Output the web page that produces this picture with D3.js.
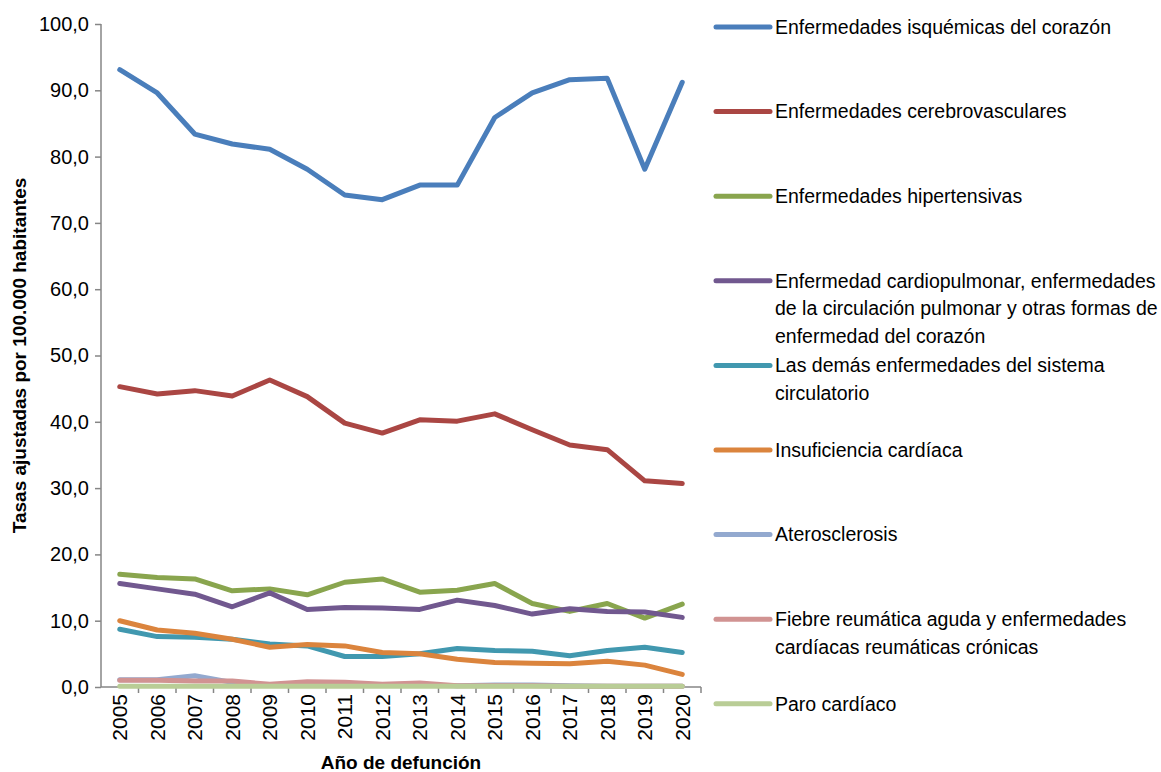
<!DOCTYPE html>
<html>
<head>
<meta charset="utf-8">
<script src="https://cdn.jsdelivr.net/npm/d3@7"></script>
<style>
  body { margin: 0; background: #fff; }
  svg text { font-family: "Liberation Sans Narrow", "Arial Narrow", "Liberation Sans", Arial, sans-serif; fill: #000; }
</style>
</head>
<body>
<svg id="chart" width="1161" height="772"></svg>
<script>
// years on the x axis
var years = ["2005","2006","2007","2008","2009","2010","2011","2012","2013","2014","2015","2016","2017","2018","2019","2020"];

// series values (tasas ajustadas por 100.000 habitantes)
var isquemicas     = [93.1, 89.6, 83.4, 81.9, 81.1, 78.1, 74.2, 73.5, 75.7, 75.7, 85.9, 89.6, 91.6, 91.8, 78.1, 91.2];
var cerebrovasc    = [45.3, 44.2, 44.7, 43.9, 46.3, 43.8, 39.8, 38.3, 40.3, 40.1, 41.2, 38.8, 36.5, 35.8, 31.1, 30.7];
var hipertensivas  = [17.0, 16.5, 16.3, 14.5, 14.8, 13.9, 15.8, 16.3, 14.3, 14.6, 15.6, 12.6, 11.4, 12.6, 10.4, 12.5];
var cardiopulmonar = [15.6, 14.8, 14.0, 12.1, 14.2, 11.7, 12.0, 11.9, 11.7, 13.1, 12.3, 11.0, 11.8, 11.4, 11.3, 10.5];
var demasCirc      = [8.7, 7.6, 7.5, 7.2, 6.5, 6.2, 4.6, 4.6, 5.0, 5.8, 5.5, 5.4, 4.7, 5.5, 6.0, 5.2];
var insuficiencia  = [10.0, 8.6, 8.1, 7.2, 6.0, 6.4, 6.2, 5.2, 5.0, 4.2, 3.7, 3.6, 3.5, 3.9, 3.3, 1.9];
var aterosclerosis = [1.1, 1.1, 1.7, 0.7, 0.3, 0.3, 0.3, 0.3, 0.3, 0.2, 0.3, 0.3, 0.2, 0.1, 0.1, 0.1];
var reumatica      = [1.0, 1.0, 0.9, 0.9, 0.4, 0.8, 0.7, 0.4, 0.6, 0.2, 0.2, 0.2, 0.1, 0.1, 0.1, 0.1];
var paroCardiaco   = [0.1, 0.1, 0.1, 0.1, 0.1, 0.1, 0.1, 0.1, 0.1, 0.1, 0.1, 0.1, 0.1, 0.1, 0.1, 0.1];

var seriesNames = [
  ["Enfermedades isquémicas del corazón"],
  ["Enfermedades cerebrovasculares"],
  ["Enfermedades hipertensivas"],
  ["Enfermedad cardiopulmonar, enfermedades", "de la circulación pulmonar y otras formas de", "enfermedad del corazón"],
  ["Las demás enfermedades del sistema", "circulatorio"],
  ["Insuficiencia cardíaca"],
  ["Aterosclerosis"],
  ["Fiebre reumática aguda y enfermedades", "cardíacas reumáticas crónicas"],
  ["Paro cardíaco"]
];
var seriesValues = [isquemicas, cerebrovasc, hipertensivas, cardiopulmonar, demasCirc, insuficiencia, aterosclerosis, reumatica, paroCardiaco];
var colors = ["#4A7EBB", "#AA4643", "#89A54E", "#71588F", "#4198AF", "#DB843D", "#93A9CF", "#D19392", "#B9CD96"];

var yTicks = [0, 10, 20, 30, 40, 50, 60, 70, 80, 90, 100];

var svg = d3.select("#chart");
var mLeft = 101, mTop = 24, plotW = 600, plotH = 663;
var axisColor = "#868686";

var x = d3.scaleBand().domain(years).range([mLeft, mLeft + plotW]);
var y = d3.scaleLinear().domain([0, 100]).range([mTop + plotH, mTop]);

// y axis
var yAxis = svg.append("g").attr("transform", "translate(" + mLeft + ",0)")
  .call(d3.axisLeft(y).tickValues(yTicks).tickSize(6).tickPadding(6)
    .tickFormat(function (d) { return d3.format(".1f")(d).replace(".", ","); }));
yAxis.selectAll("path, line").attr("stroke", axisColor).attr("stroke-width", 1.5);
yAxis.select(".domain").attr("d", "M0," + mTop + "V" + (mTop + plotH));
yAxis.selectAll("text").style("font-size", "20px").attr("fill", "#000");

// x axis: ticks between categories
var xg = svg.append("g").attr("transform", "translate(0," + (mTop + plotH) + ")");
xg.append("line").attr("x1", mLeft).attr("x2", mLeft + plotW).attr("stroke", axisColor).attr("stroke-width", 1.5);
xg.selectAll(".tk").data(years).enter().append("line")
  .attr("class", "tk")
  .attr("x1", function (d) { return x(d) + x.bandwidth(); })
  .attr("x2", function (d) { return x(d) + x.bandwidth(); })
  .attr("y1", 0).attr("y2", 6)
  .attr("stroke", axisColor).attr("stroke-width", 1.5);
xg.selectAll(".lbl").data(years).enter().append("text")
  .attr("class", "lbl")
  .attr("transform", function (d) { return "translate(" + (x(d) + x.bandwidth() / 2 + 7.5) + ",7) rotate(-90)"; })
  .attr("text-anchor", "end")
  .style("font-size", "21px")
  .text(function (d) { return d; });

// axis titles
svg.append("text")
  .attr("transform", "translate(26," + (mTop + plotH / 2) + ") rotate(-90)")
  .attr("text-anchor", "middle")
  .style("font-size", "19px").style("font-weight", "bold")
  .text("Tasas ajustadas por 100.000 habitantes");
svg.append("text")
  .attr("x", mLeft + plotW / 2).attr("y", 769)
  .attr("text-anchor", "middle")
  .style("font-size", "19px").style("font-weight", "bold")
  .text("Año de defunción");

// lines
var line = d3.line()
  .x(function (d, i) { return x(years[i]) + x.bandwidth() / 2; })
  .y(function (d) { return y(d); });

svg.append("g").selectAll("path").data(seriesValues).enter().append("path")
  .attr("d", line)
  .attr("fill", "none")
  .attr("stroke", function (d, i) { return colors[i]; })
  .attr("stroke-width", 5)
  .attr("stroke-linejoin", "round")
  .attr("stroke-linecap", "round");

// legend
var legend = svg.append("g").selectAll("g").data(seriesNames).enter().append("g")
  .attr("transform", function (d, i) { return "translate(716," + (27 + i * 84.6) + ")"; });
legend.append("line")
  .attr("x1", 0).attr("x2", 54)
  .attr("stroke", function (d, i) { return colors[i]; })
  .attr("stroke-width", 5)
  .attr("stroke-linecap", "round");
legend.each(function (lines) {
  var g = d3.select(this);
  lines.forEach(function (t, k) {
    g.append("text")
      .attr("x", 59).attr("y", k * 27.5)
      .attr("dy", "0.35em")
      .style("font-size", "19.5px")
      .text(t);
  });
});
</script>
</body>
</html>
